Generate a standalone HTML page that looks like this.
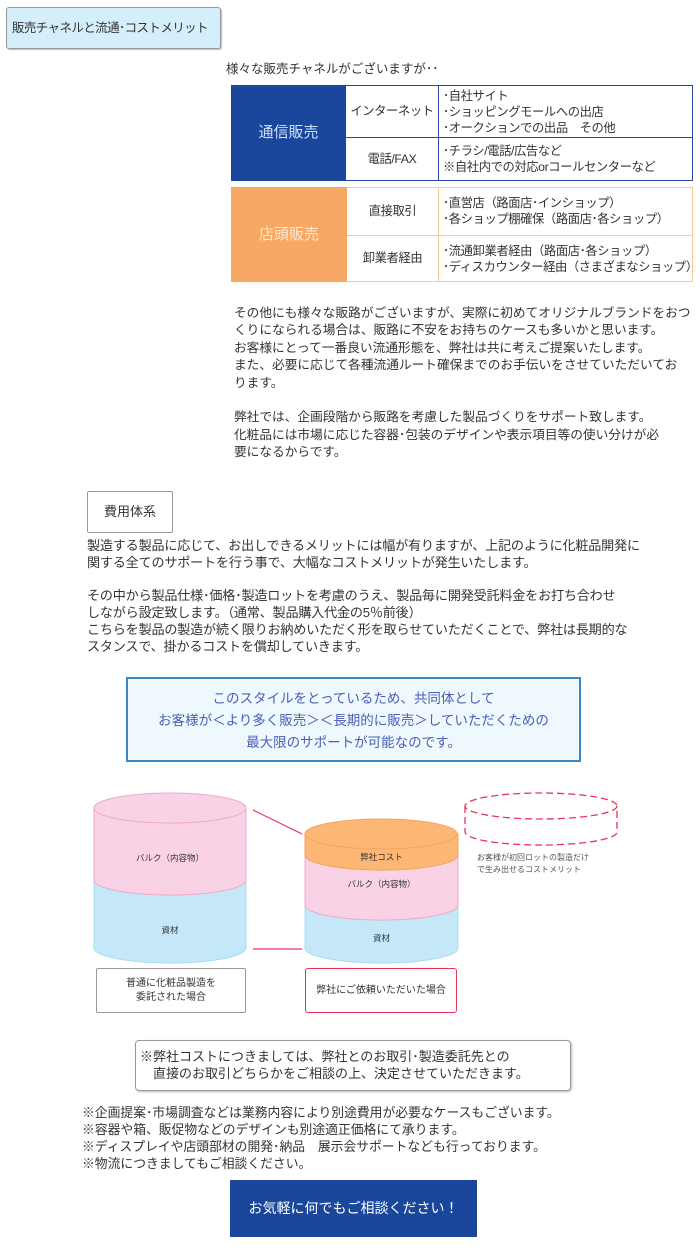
<!DOCTYPE html>
<html><head><meta charset="utf-8">
<style>
*{margin:0;padding:0;box-sizing:border-box}
body{width:700px;height:1251px;position:relative;background:#fff;font-family:"Liberation Sans","Noto Sans CJK JP",sans-serif;color:#333;overflow:hidden}
.a{position:absolute;white-space:nowrap}
.t{font-size:12.3px;line-height:16px;letter-spacing:-0.4px}
</style></head><body>
<div class="a" style="left:6px;top:7px;width:215px;height:42px;background:#d4effb;border:1px solid #999;border-radius:3px;box-shadow:1px 1px 1px #bbb;font-size:12.5px;line-height:40px;padding-left:5px;letter-spacing:-0.6px">販売チャネルと流通･コストメリット</div>
<div class="a" style="left:226px;top:58px;font-size:12.5px">様々な販売チャネルがございますが･･</div>

<div class="a" style="left:231px;top:85px;width:462px;height:96px;border:1px solid #2b45a8"></div>
<div class="a" style="left:231px;top:85px;width:115px;height:96px;background:#1a479c;color:#cfe0ff;font-size:15px;line-height:96px;text-align:center">通信販売</div>
<div class="a" style="left:438px;top:85px;width:1px;height:96px;background:#2b45a8"></div>
<div class="a" style="left:346px;top:137px;width:347px;height:1px;background:#2b45a8"></div>
<div class="a t" style="left:346px;top:85px;width:92px;line-height:52px;text-align:center">インターネット</div>
<div class="a t" style="left:346px;top:137px;width:92px;line-height:44px;text-align:center">電話/FAX</div>
<div class="a t" style="left:443px;top:88px">･自社サイト<br>･ショッピングモールへの出店<br>･オークションでの出品　その他</div>
<div class="a t" style="left:443px;top:143px">･チラシ/電話/広告など<br>※自社内での対応orコールセンターなど</div>

<div class="a" style="left:231px;top:187px;width:462px;height:95px;border:1px solid #f8c79a"></div>
<div class="a" style="left:231px;top:187px;width:116px;height:95px;background:#f7a862;color:#fde7d2;font-size:15px;line-height:95px;text-align:center">店頭販売</div>
<div class="a" style="left:438px;top:187px;width:1px;height:95px;background:#f8c79a"></div>
<div class="a" style="left:347px;top:235px;width:346px;height:1px;background:#f8c79a"></div>
<div class="a t" style="left:347px;top:187px;width:91px;line-height:48px;text-align:center">直接取引</div>
<div class="a t" style="left:347px;top:235px;width:91px;line-height:47px;text-align:center">卸業者経由</div>
<div class="a t" style="left:443px;top:195px">･直営店（路面店･インショップ）<br>･各ショップ棚確保（路面店･各ショップ）</div>
<div class="a t" style="left:443px;top:243px">･流通卸業者経由（路面店･各ショップ）<br>･ディスカウンター経由（さまざまなショップ）</div>

<div class="a" style="left:234px;top:305px;font-size:12.7px;line-height:17.4px">その他にも様々な販路がございますが、実際に初めてオリジナルブランドをおつ<br>くりになられる場合は、販路に不安をお持ちのケースも多いかと思います。<br>お客様にとって一番良い流通形態を、弊社は共に考えご提案いたします。<br>また、必要に応じて各種流通ルート確保までのお手伝いをさせていただいてお<br>ります。<br><br>弊社では、企画段階から販路を考慮した製品づくりをサポート致します。<br>化粧品には市場に応じた容器･包装のデザインや表示項目等の使い分けが必<br>要になるからです。</div>

<div class="a" style="left:87px;top:491px;width:86px;height:42px;border:1px solid #999;border-radius:2px;font-size:13px;line-height:40px;text-align:center">費用体系</div>
<div class="a" style="left:87px;top:538px;font-size:13.1px;line-height:16.8px;letter-spacing:-0.2px">製造する製品に応じて、お出しできるメリットには幅が有りますが、上記のように化粧品開発に<br>関する全てのサポートを行う事で、大幅なコストメリットが発生いたします。<br><br>その中から製品仕様･価格･製造ロットを考慮のうえ、製品毎に開発受託料金をお打ち合わせ<br>しながら設定致します。（通常、製品購入代金の5％前後）<br>こちらを製品の製造が続く限りお納めいただく形を取らせていただくことで、弊社は長期的な<br>スタンスで、掛かるコストを償却していきます。</div>

<div class="a" style="left:126px;top:677px;width:455px;height:85px;background:#eef8fd;border:2px solid #3a87c8;color:#4a5fb8;font-size:13.5px;line-height:22px;text-align:center;padding-top:9px">このスタイルをとっているため、共同体として<br>お客様が＜より多く販売＞＜長期的に販売＞していただくための<br>最大限のサポートが可能なのです。</div>

<svg class="a" style="left:0;top:780px" width="700" height="240" viewBox="0 780 700 240">
<path d="M94 880 L94 948 A76 15 0 0 0 246 948 L246 880 Z" fill="#c5e8f8" stroke="#a8dbf3"/>
<path d="M94 808 L94 880 A76 15 0 0 0 246 880 L246 808 Z" fill="#f9d3e5" stroke="#f0a9c8"/>
<ellipse cx="170" cy="808" rx="76" ry="15" fill="#f9d3e5" stroke="#f0a9c8"/>
<path d="M305 905 L305 948 A76 15 0 0 0 458 948 L458 905 Z" fill="#c5e8f8" stroke="#a8dbf3"/>
<path d="M305 855 L305 905 A76 15 0 0 0 458 905 L458 855 Z" fill="#f9d3e5" stroke="#f0a9c8"/>
<path d="M305 834 L305 855 A76 15 0 0 0 458 855 L458 834 Z" fill="#fcb775" stroke="#f4a45e"/>
<ellipse cx="381" cy="834" rx="76" ry="15" fill="#fcb775" stroke="#f4a45e"/>
<g fill="none" stroke="#e8335a" stroke-width="1.3" stroke-dasharray="7 4">
<ellipse cx="541" cy="806" rx="76" ry="13"/>
<path d="M465 806 L465 832 A76 13 0 0 0 617 832 L617 806"/>
</g>
<line x1="253" y1="810" x2="302" y2="834" stroke="#e8335a" stroke-width="1.2"/>
<line x1="253" y1="949" x2="302" y2="949" stroke="#e8335a" stroke-width="1.2"/>
</svg>
<div class="a" style="left:94px;top:852px;width:152px;text-align:center;font-size:8.5px">バルク（内容物）</div>
<div class="a" style="left:94px;top:924px;width:152px;text-align:center;font-size:8.5px">資材</div>
<div class="a" style="left:305px;top:851px;width:153px;text-align:center;font-size:8.5px">弊社コスト</div>
<div class="a" style="left:305px;top:878px;width:153px;text-align:center;font-size:8.5px">バルク（内容物）</div>
<div class="a" style="left:305px;top:932px;width:153px;text-align:center;font-size:8.5px">資材</div>
<div class="a" style="left:477px;top:852px;font-size:8px;line-height:12px;color:#555">お客様が初回ロットの製造だけ<br>で生み出せるコストメリット</div>
<div class="a" style="left:96px;top:968px;width:150px;height:45px;border:1.5px solid #999;border-radius:2px;font-size:10px;line-height:14px;text-align:center;padding-top:8px">普通に化粧品製造を<br>委託された場合</div>
<div class="a" style="left:305px;top:968px;width:152px;height:45px;border:1.5px solid #e8335a;border-radius:3px;font-size:10px;line-height:43px;text-align:center">弊社にご依頼いただいた場合</div>

<div class="a" style="left:135px;top:1040px;width:436px;height:51px;border:1px solid #999;border-radius:4px;box-shadow:1px 1px 2px #bbb;font-size:13px;line-height:17px;padding:7px 0 0 4px">※弊社コストにつきましては、弊社とのお取引･製造委託先との<br>　直接のお取引どちらかをご相談の上、決定させていただきます。</div>
<div class="a" style="left:82px;top:1104px;font-size:12.8px;line-height:17px">※企画提案･市場調査などは業務内容により別途費用が必要なケースもございます。<br>※容器や箱、販促物などのデザインも別途適正価格にて承ります。<br>※ディスプレイや店頭部材の開発･納品　展示会サポートなども行っております。<br>※物流につきましてもご相談ください。</div>
<div class="a" style="left:230px;top:1180px;width:247px;height:57px;background:#1a479c;color:#fff;font-size:14px;line-height:57px;text-align:center">お気軽に何でもご相談ください！</div>
</body></html>
